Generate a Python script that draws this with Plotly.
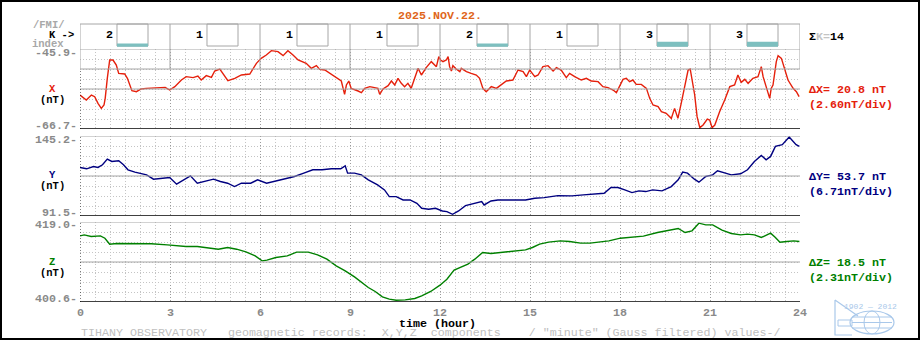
import plotly.graph_objects as go

# ---------------------------------------------------------------- data
date_label = "2025.NOV.22."
k_index = [2, 1, 1, 1, 2, 1, 3, 3]
hour_ticks = [0, 3, 6, 9, 12, 15, 18, 21, 24]

x_hours = [0.0, 0.16, 0.21, 0.38, 0.49, 0.60, 0.71, 0.80, 0.84, 0.91, 0.99, 1.10, 1.21, 1.29,
           1.49, 1.58, 1.66, 1.73, 1.88, 2.04, 2.21, 2.49, 2.84, 2.99, 3.16, 3.38, 3.54, 3.77,
           3.93, 4.04, 4.21, 4.38, 4.49, 4.66, 4.82, 4.93, 5.16, 5.38, 5.66, 5.77, 5.88, 6.04,
           6.21, 6.38, 6.60, 6.77, 6.93, 7.10, 7.27, 7.54, 7.71, 7.88, 7.99, 8.16, 8.27, 8.49,
           8.71, 8.82, 8.88, 8.96, 9.04, 9.27, 9.38, 9.49, 9.66, 9.93, 9.99, 10.10, 10.27, 10.38,
           10.49, 10.60, 10.71, 10.82, 10.93, 11.04, 11.16, 11.27, 11.38, 11.54, 11.71, 11.88,
           11.96, 12.02, 12.10, 12.21, 12.27, 12.32, 12.38, 12.43, 12.54, 12.66, 12.71, 12.88,
           13.04, 13.21, 13.32, 13.43, 13.54, 13.71, 13.88, 14.04, 14.21, 14.43, 14.60, 14.77,
           14.88, 14.99, 15.16, 15.27, 15.43, 15.60, 15.77, 15.88, 16.04, 16.21, 16.32, 16.49,
           16.71, 16.88, 17.04, 17.27, 17.43, 17.60, 17.77, 17.88, 17.99, 18.10, 18.21, 18.32,
           18.43, 18.54, 18.71, 18.88, 18.99, 19.10, 19.27, 19.38, 19.54, 19.71, 19.82, 19.93,
           20.04, 20.16, 20.27, 20.34, 20.41, 20.49, 20.57, 20.66, 20.77, 20.91, 20.99, 21.07,
           21.16, 21.32, 21.49, 21.66, 21.82, 21.93, 22.04, 22.16, 22.27, 22.43, 22.60, 22.71,
           22.77, 22.88, 22.99, 23.04, 23.10, 23.21, 23.27, 23.38, 23.49, 23.60, 23.77, 23.88,
           23.97]
x_values = [-57.86, -58.73, -59.16, -57.86, -58.29, -60.03, -61.33, -60.46, -58.73, -53.53,
            -48.76, -48.76, -50.06, -52.23, -52.40, -53.53, -55.26, -56.73, -56.99, -56.30,
            -56.13, -55.95, -55.87, -56.56, -55.69, -53.96, -53.09, -53.35, -52.92, -53.96,
            -52.83, -53.27, -51.62, -51.10, -53.09, -54.13, -53.53, -52.66, -52.40, -50.93,
            -49.63, -48.33, -47.46, -46.33, -46.59, -47.63, -46.33, -47.46, -48.76, -49.63,
            -50.93, -50.23, -51.19, -51.36, -51.97, -53.09, -54.22, -57.69, -55.26, -54.22,
            -56.13, -56.82, -57.25, -56.13, -55.69, -56.13, -57.69, -56.30, -55.43, -54.22,
            -55.26, -53.53, -54.83, -55.69, -54.83, -56.13, -53.53, -50.93, -52.66, -50.75,
            -49.19, -50.49, -47.89, -48.76, -49.19, -48.76, -47.89, -50.49, -51.62, -50.23,
            -51.10, -51.79, -50.93, -51.79, -52.23, -52.66, -53.53, -56.13, -56.99, -55.69,
            -56.13, -55.26, -54.22, -53.96, -51.36, -51.79, -53.09, -51.36, -53.09, -52.66,
            -50.49, -50.23, -51.62, -50.75, -51.36, -53.35, -52.23, -53.09, -53.96, -53.53,
            -54.22, -54.39, -55.69, -55.95, -56.56, -57.25, -55.69, -53.79, -53.53, -54.39,
            -53.96, -55.09, -55.09, -56.13, -58.73, -60.46, -60.89, -62.19, -62.63, -63.93,
            -61.33, -63.93, -60.03, -55.26, -51.36, -51.10, -54.39, -57.86, -63.49, -66.35,
            -65.66, -64.10, -64.36, -66.35, -65.66, -62.19, -59.16, -55.69, -55.26, -52.66,
            -54.57, -53.79, -54.83, -53.53, -53.09, -50.49, -53.09, -55.69, -58.73, -56.13,
            -55.26, -49.19, -47.63, -48.33, -51.36, -53.96, -56.13, -56.99, -58.29]

y_hours = [0.0, 0.22, 0.45, 0.60, 0.75, 0.91, 1.06, 1.29, 1.45, 1.60, 1.83, 2.06, 2.22, 2.45,
           2.68, 2.99, 3.22, 3.45, 3.68, 3.91, 4.14, 4.45, 4.68, 4.92, 5.15, 5.38, 5.69, 5.92,
           6.22, 6.53, 6.84, 7.15, 7.46, 7.76, 8.07, 8.38, 8.69, 8.84, 8.92, 9.15, 9.38, 9.61,
           9.92, 10.15, 10.31, 10.54, 10.77, 11.00, 11.23, 11.39, 11.62, 11.85, 12.08, 12.23,
           12.42, 12.62, 12.85, 13.16, 13.39, 13.47, 13.70, 13.93, 14.39, 14.85, 15.16, 15.47,
           15.93, 16.40, 16.78, 17.09, 17.47, 17.70, 17.93, 18.16, 18.40, 18.63, 18.86, 19.09,
           19.40, 19.71, 19.94, 20.09, 20.25, 20.48, 20.63, 20.86, 21.09, 21.25, 21.48, 21.71,
           22.02, 22.25, 22.48, 22.71, 22.87, 23.02, 23.18, 23.41, 23.64, 23.87, 23.98]
y_values = [124.08, 123.18, 124.75, 124.08, 125.88, 129.70, 128.12, 128.57, 125.88, 122.50,
            120.93, 119.58, 119.13, 116.21, 116.89, 117.34, 112.84, 115.76, 118.46, 113.52,
            114.64, 116.21, 114.64, 113.52, 111.27, 113.52, 113.52, 115.76, 113.52, 115.09,
            116.89, 118.01, 120.26, 122.50, 122.50, 123.18, 123.18, 125.20, 120.26, 120.26,
            119.13, 115.76, 112.39, 109.02, 104.53, 104.53, 102.28, 102.28, 100.03, 96.67,
            95.99, 96.67, 94.87, 94.42, 92.62, 94.87, 98.46, 100.03, 101.16, 98.91, 101.61,
            102.28, 102.28, 102.28, 103.41, 103.86, 105.20, 104.98, 105.65, 106.10, 106.78,
            110.60, 110.60, 109.02, 107.22, 108.35, 107.90, 109.02, 108.35, 111.27, 115.76,
            120.93, 120.26, 116.21, 114.19, 118.01, 119.13, 121.83, 120.71, 119.13, 119.81,
            122.50, 128.12, 132.17, 129.25, 131.49, 138.23, 139.36, 144.53, 139.36, 138.23]

z_hours = [0.0, 0.14, 0.37, 0.68, 0.83, 0.99, 1.22, 1.45, 1.91, 2.37, 2.91, 3.22, 3.53, 3.91,
           4.38, 4.61, 4.92, 5.22, 5.53, 5.84, 6.07, 6.23, 6.53, 6.91, 7.22, 7.61, 7.92, 8.23,
           8.54, 8.84, 9.15, 9.38, 9.61, 9.84, 10.08, 10.31, 10.54, 10.84, 11.16, 11.39, 11.69,
           12.00, 12.23, 12.47, 12.70, 12.93, 13.16, 13.42, 13.70, 14.08, 14.47, 14.85, 15.08,
           15.32, 15.62, 16.01, 16.32, 16.69, 17.00, 17.32, 17.63, 18.01, 18.40, 18.78, 19.25,
           19.63, 19.94, 20.17, 20.40, 20.63, 20.86, 21.09, 21.40, 21.71, 22.02, 22.25, 22.48,
           22.71, 22.87, 23.02, 23.18, 23.33, 23.56, 23.79, 23.98]
z_values = [415.84, 416.07, 415.69, 415.84, 415.30, 413.92, 414.07, 414.07, 413.92, 414.00,
            413.76, 413.61, 413.38, 413.38, 412.99, 412.76, 413.15, 412.76, 412.15, 411.22,
            410.07, 410.22, 410.84, 411.22, 412.07, 412.07, 411.46, 410.45, 408.91, 407.76,
            406.37, 405.06, 403.91, 402.99, 401.75, 401.22, 400.98, 401.06, 401.37, 401.98,
            402.99, 404.45, 405.83, 407.91, 408.53, 409.30, 410.45, 411.99, 411.76, 412.07,
            412.22, 412.61, 413.15, 413.92, 414.38, 414.69, 414.53, 414.15, 414.15, 414.46,
            414.69, 415.30, 415.46, 415.77, 416.61, 417.15, 417.54, 416.61, 417.00, 418.77,
            418.38, 418.38, 417.15, 416.38, 416.07, 416.23, 416.07, 415.46, 416.07, 416.46,
            415.46, 414.38, 414.53, 414.69, 414.53]

x_range = (-66.7, -45.9)
y_range = (91.5, 145.2)
z_range = (400.56, 419.04)

# ---------------------------------------------------------------- geometry
W, H = 920, 340
L, R, T, B = 80, 120, 24, 38
PW, PH = W - L - R, H - T - B


def py(p):
    """pixel row -> paper y"""
    return (H - B - p) / PH


def px(p):
    """pixel column -> paper x"""
    return (p - L) / PW


MONO = "Liberation Mono, DejaVu Sans Mono, monospace"
FS = 11.67
FS_SMALL = 10.5
GRID_MINOR = "#c4c4c4"
GRID_MAJOR = "#9a9a9a"
FRAME = "#a6a6a6"
DOTS = "1px,2px"

panels = [
    dict(name="X", color="#e5200c", h=x_hours, v=x_values, rng=x_range, top=49, bot=129,
         extra_solid=2),
    dict(name="Y", color="#000080", h=y_hours, v=y_values, rng=y_range, top=136, bot=216,
         extra_solid=None),
    dict(name="Z", color="#008000", h=z_hours, v=z_values, rng=z_range, top=222, bot=302,
         extra_solid=None),
]

fig = go.Figure()
shapes = []
annotations = []


def text(x, y, s, color="#000000", xanchor="center", size=FS, bold=True, xref="paper"):
    annotations.append(dict(
        x=x, y=y, xref=xref, yref="paper", text=(f"<b>{s}</b>" if bold else s),
        showarrow=False, xanchor=xanchor, yanchor="middle",
        font=dict(family=MONO, size=size, color=color), borderpad=0,
    ))


for i, p in enumerate(panels, start=1):
    lo, hi = p["rng"]
    div = (hi - lo) / 8
    sx = "" if i == 1 else str(i)
    xa, ya = "x" + sx, "y" + sx

    fig.add_trace(go.Scatter(
        x=p["h"], y=p["v"], mode="lines", xaxis=xa, yaxis=ya,
        line=dict(color=p["color"], width=1.4), hoverinfo="skip", showlegend=False,
    ))

    fig.update_layout(**{
        "xaxis" + sx: dict(
            range=[0, 24], domain=[0, 1], anchor=ya, showticklabels=False, ticks="",
            tick0=0, dtick=3, showgrid=True, gridcolor=GRID_MAJOR, griddash=DOTS,
            gridwidth=1, zeroline=False, showline=False, fixedrange=True,
            minor=dict(tick0=0, dtick=0.5, showgrid=True, gridcolor=GRID_MINOR,
                       griddash=DOTS, gridwidth=1),
        ),
        "yaxis" + sx: dict(
            range=[lo, hi], domain=[py(p["bot"]), py(p["top"])], anchor=xa,
            tick0=lo, dtick=div, showgrid=True, gridcolor=GRID_MINOR, griddash=DOTS,
            gridwidth=1, showticklabels=False, ticks="", zeroline=False,
            showline=False, fixedrange=True,
        ),
    })

    # frame: top, middle (solid grey), bottom (black)
    solid_levels = [hi, lo + 4 * div]
    if p["extra_solid"]:
        solid_levels.append(hi - p["extra_solid"] * div)
    for lv in solid_levels:
        shapes.append(dict(type="line", xref=xa, yref=ya, x0=0, x1=24, y0=lv, y1=lv,
                           line=dict(color=FRAME, width=1)))
    shapes.append(dict(type="line", xref=xa, yref=ya, x0=0, x1=24, y0=lo, y1=lo,
                       line=dict(color="#000000", width=1.5)))
    left_top = hi - p["extra_solid"] * div if p["extra_solid"] else hi
    shapes.append(dict(type="line", xref=xa, yref=ya, x0=0, x1=0, y0=lo, y1=left_top,
                       line=dict(color="#000000", width=1, dash=DOTS)))

    # range labels and component name
    text(px(78), py(p["top"] + 3.5), f"{hi:.1f}-", color="#8a8a8a", xanchor="right")
    text(px(78), py(p["bot"] - 3), f"{lo:.1f}-", color="#8a8a8a", xanchor="right")
    mid = (p["top"] + p["bot"]) / 2
    text(px(52), py(mid - 0.5), p["name"], color=p["color"], size=FS_SMALL)
    text(px(52), py(mid + 10.5), "(nT)", size=FS_SMALL)

    # span and scale on the right
    span = hi - lo
    text(px(808), py(mid + 1), f"Δ{p['name']}= {span:.1f} nT", color=p["color"], xanchor="left")
    text(px(808), py(mid + 16), f"({span / 8:.2f}nT/div)", color=p["color"], xanchor="left")

# ---------------------------------------------------------------- K-index row
k_top, k_bot = 24, 49
shapes.append(dict(type="line", xref="x", yref="paper", x0=0, x1=24,
                   y0=py(k_top), y1=py(k_top), line=dict(color=FRAME, width=1)))
for hb in range(0, 25, 3):
    shapes.append(dict(type="line", xref="x", yref="paper", x0=hb, x1=hb,
                       y0=py(69), y1=py(k_top), line=dict(color=FRAME, width=1)))
for i, k in enumerate(k_index):
    h0 = 3 * i
    text(h0 + 0.967, py(35.5), str(k), xref="x")
    shapes.append(dict(type="rect", xref="x", yref="paper", x0=h0 + 1.233, x1=h0 + 2.267,
                       y0=py(46), y1=py(k_top), line=dict(color=FRAME, width=1)))
    if k >= 2:
        shapes.append(dict(type="rect", xref="x", yref="paper", x0=h0 + 1.233, x1=h0 + 2.267,
                           y0=py(46.8), y1=py(46.8 - 1.67 * k), fillcolor="#7dbfbf",
                           line=dict(width=0)))

text(px(32), py(25.5), "/FMI/", color="#a8a8a8", xanchor="left", size=FS_SMALL)
text(px(75), py(35), "K -&gt;", xanchor="right", size=FS_SMALL)
text(px(31), py(44), "index", color="#a8a8a8", xanchor="left", size=FS_SMALL)
text(px(808), py(36.5),
     f"Σ<span style='color:#c4c4c4'>K=</span>{sum(k_index)}", xanchor="left")

# ---------------------------------------------------------------- title and time axis
text(0.5, py(16), date_label, color="#e0661a")
for hv in hour_ticks:
    text(hv, py(313), str(hv), color="#8a8a8a", xref="x")
text(px(437), py(324), "time (hour)")
text(px(80), py(332.5),
     'TIHANY OBSERVATORY   geomagnetic records:  X,Y,Z  components    / "minute" (Gauss filtered) values-/'
     .replace(" ", "\u00a0"),
     color="#c0c0c0", xanchor="left", bold=False)

# ---------------------------------------------------------------- emblem
LOGO = "#a9c8ea"
text(px(870), py(306), "1902 — 2012", color=LOGO, size=8, bold=False)
shapes.append(dict(type="path", xref="paper", yref="paper",
                   path=(f"M {px(835)},{py(300)} L {px(835)},{py(335)} L {px(852)},{py(335)} "
                         f"M {px(835)},{py(300)} L {px(858)},{py(316)}"),
                   line=dict(color=LOGO, width=1.2)))
shapes.append(dict(type="circle", xref="paper", yref="paper",
                   x0=px(850), x1=px(894), y0=py(334), y1=py(311),
                   line=dict(color=LOGO, width=1.2)))
shapes.append(dict(type="circle", xref="paper", yref="paper",
                   x0=px(864), x1=px(880), y0=py(334), y1=py(311),
                   line=dict(color=LOGO, width=1)))
for yy in (317, 322.5, 328):
    shapes.append(dict(type="line", xref="paper", yref="paper",
                       x0=px(852), x1=px(892), y0=py(yy), y1=py(yy),
                       line=dict(color=LOGO, width=1)))
shapes.append(dict(type="rect", xref="paper", yref="paper",
                   x0=px(838), x1=px(852), y0=py(326), y1=py(320),
                   line=dict(color=LOGO, width=1)))

# ---------------------------------------------------------------- outer border
shapes.append(dict(type="rect", xref="paper", yref="paper",
                   x0=px(1), x1=px(919), y0=py(339), y1=py(1),
                   line=dict(color="#000000", width=2)))

fig.update_layout(
    width=W, height=H, autosize=False,
    margin=dict(l=L, r=R, t=T, b=B, pad=0),
    paper_bgcolor="#ffffff", plot_bgcolor="#ffffff",
    showlegend=False, shapes=shapes, annotations=annotations,
)

fig.write_html("out.html", config={"displayModeBar": False, "staticPlot": True})
